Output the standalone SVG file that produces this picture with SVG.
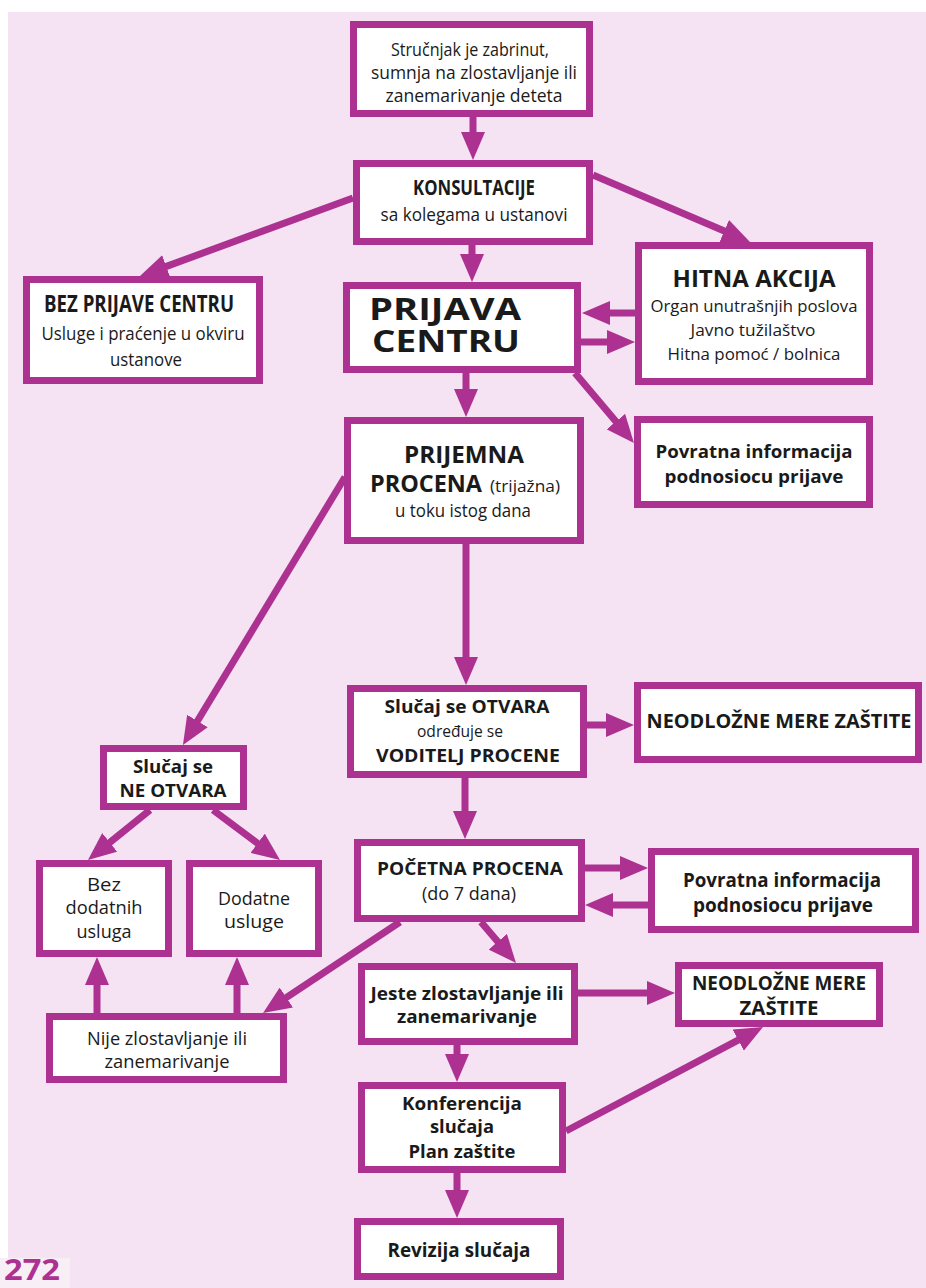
<svg xmlns="http://www.w3.org/2000/svg" width="926" height="1288" viewBox="0 0 926 1288">
<style>
.bx{fill:#fff;stroke:#ac3190;stroke-width:7}
.c{stroke:#ac3190;stroke-width:7;fill:none;marker-end:url(#ah)}
.t{font-family:'Open Sans','Liberation Sans',sans-serif;fill:#1a1a1a;text-anchor:middle}
.b{font-weight:700}
.r{font-weight:400}
</style>
<defs>
<marker id="ah" markerUnits="userSpaceOnUse" markerWidth="28" markerHeight="24" refX="2" refY="12" orient="auto">
<path d="M0,0 L28,12 L0,24 z" fill="#ac3190"/>
</marker>
</defs>
<rect x="0" y="0" width="926" height="1288" fill="#fff"/>
<rect x="8" y="12" width="918" height="1276" fill="#f5e2f2"/>
<rect x="0" y="1258" width="70" height="30" fill="#f8eff6"/>
<g id="connectors">
<line class="c" x1="473" y1="117" x2="473" y2="134"/>
<line class="c" x1="353" y1="198" x2="164.4" y2="267.1"/>
<line class="c" x1="593" y1="175" x2="726.1" y2="231.8"/>
<line class="c" x1="472" y1="245" x2="472" y2="256"/>
<line class="c" x1="635" y1="313" x2="608" y2="313"/>
<line class="c" x1="581" y1="342" x2="609" y2="342"/>
<line class="c" x1="466" y1="373" x2="466" y2="391"/>
<line class="c" x1="575" y1="373" x2="617.2" y2="423.1"/>
<line class="c" x1="466" y1="544" x2="466" y2="659"/>
<line class="c" x1="587" y1="725" x2="608" y2="725"/>
<line class="c" x1="345" y1="477" x2="196.4" y2="722.7"/>
<line class="c" x1="150" y1="810" x2="108.2" y2="843.7"/>
<line class="c" x1="213" y1="810" x2="259.2" y2="844.5"/>
<line class="c" x1="465" y1="778" x2="465" y2="813"/>
<line class="c" x1="585" y1="868" x2="622" y2="868"/>
<line class="c" x1="648" y1="905" x2="611" y2="905"/>
<line class="c" x1="481" y1="922" x2="499.1" y2="943.2"/>
<line class="c" x1="400" y1="922" x2="284.7" y2="998.6"/>
<line class="c" x1="97" y1="1013" x2="97" y2="983"/>
<line class="c" x1="237" y1="1013" x2="237" y2="983"/>
<line class="c" x1="578" y1="993" x2="649" y2="993"/>
<line class="c" x1="457" y1="1045" x2="457" y2="1056"/>
<line class="c" x1="566" y1="1131" x2="740" y2="1039.1"/>
<line class="c" x1="457" y1="1173" x2="457" y2="1192"/>
</g>
<g id="n-strucnjak">
<rect class="bx" x="353.5" y="24.5" width="236" height="89"/>
<text class="t r" x="470" y="56" font-size="18" textLength="158" lengthAdjust="spacingAndGlyphs">Stručnjak je zabrinut,</text>
<text class="t r" x="474" y="79" font-size="18" textLength="206" lengthAdjust="spacingAndGlyphs">sumnja na zlostavljanje ili</text>
<text class="t r" x="474" y="102" font-size="18" textLength="177" lengthAdjust="spacingAndGlyphs">zanemarivanje deteta</text>
</g>
<g id="n-konsultacije">
<rect class="bx" x="356.5" y="163.5" width="233" height="78"/>
<text class="t b" x="474" y="195" font-size="22" textLength="122" lengthAdjust="spacingAndGlyphs">KONSULTACIJE</text>
<text class="t r" x="474" y="221" font-size="18" textLength="187" lengthAdjust="spacingAndGlyphs">sa kolegama u ustanovi</text>
</g>
<g id="n-bez-prijave">
<rect class="bx" x="26.5" y="279.5" width="233" height="101"/>
<text class="t b" x="139" y="312" font-size="24" textLength="190" lengthAdjust="spacingAndGlyphs">BEZ PRIJAVE CENTRU</text>
<text class="t r" x="143" y="340" font-size="18" textLength="203" lengthAdjust="spacingAndGlyphs">Usluge i praćenje u okviru</text>
<text class="t r" x="146" y="366" font-size="18" textLength="72" lengthAdjust="spacingAndGlyphs">ustanove</text>
</g>
<g id="n-prijava">
<rect class="bx" x="346.5" y="285.5" width="231" height="84"/>
<text class="t b" x="445" y="320" font-size="30" textLength="152" lengthAdjust="spacingAndGlyphs">PRIJAVA</text>
<text class="t b" x="446" y="352" font-size="30" textLength="148" lengthAdjust="spacingAndGlyphs">CENTRU</text>
</g>
<g id="n-hitna">
<rect class="bx" x="638.5" y="245.5" width="231" height="136"/>
<text class="t b" x="754" y="287" font-size="23" textLength="163" lengthAdjust="spacingAndGlyphs">HITNA AKCIJA</text>
<text class="t r" x="754" y="312" font-size="17" textLength="207" lengthAdjust="spacingAndGlyphs">Organ unutrašnjih poslova</text>
<text class="t r" x="753" y="336" font-size="17" textLength="125" lengthAdjust="spacingAndGlyphs">Javno tužilaštvo</text>
<text class="t r" x="754" y="360" font-size="17" textLength="173" lengthAdjust="spacingAndGlyphs">Hitna pomoć / bolnica</text>
</g>
<g id="n-povratna1">
<rect class="bx" x="637.5" y="419.5" width="232" height="85"/>
<text class="t b" x="754" y="458" font-size="18" textLength="197" lengthAdjust="spacingAndGlyphs">Povratna informacija</text>
<text class="t b" x="754" y="483" font-size="18" textLength="179" lengthAdjust="spacingAndGlyphs">podnosiocu prijave</text>
</g>
<g id="n-prijemna">
<rect class="bx" x="347.5" y="420.5" width="233" height="120"/>
<text class="t b" x="464" y="463" font-size="24" textLength="120" lengthAdjust="spacingAndGlyphs">PRIJEMNA</text>
<text class="t b" x="426" y="492" font-size="24" textLength="112" lengthAdjust="spacingAndGlyphs">PROCENA</text>
<text class="t r" x="525" y="492" font-size="17" textLength="70" lengthAdjust="spacingAndGlyphs">(trijažna)</text>
<text class="t r" x="463" y="517" font-size="18" textLength="136" lengthAdjust="spacingAndGlyphs">u toku istog dana</text>
</g>
<g id="n-otvara">
<rect class="bx" x="350.5" y="688.5" width="233" height="86"/>
<text class="t b" x="467" y="713" font-size="18" textLength="165" lengthAdjust="spacingAndGlyphs">Slučaj se OTVARA</text>
<text class="t r" x="460" y="737" font-size="16" textLength="86" lengthAdjust="spacingAndGlyphs">određuje se</text>
<text class="t b" x="468" y="762" font-size="18" textLength="184" lengthAdjust="spacingAndGlyphs">VODITELJ PROCENE</text>
</g>
<g id="n-neodlozne1">
<rect class="bx" x="637.5" y="685.5" width="281" height="74"/>
<text class="t b" x="779" y="728" font-size="19" textLength="265" lengthAdjust="spacingAndGlyphs">NEODLOŽNE MERE ZAŠTITE</text>
</g>
<g id="n-ne-otvara">
<rect class="bx" x="103.5" y="748.5" width="140" height="58"/>
<text class="t b" x="173" y="773" font-size="18" textLength="80" lengthAdjust="spacingAndGlyphs">Slučaj se</text>
<text class="t b" x="173" y="797" font-size="18" textLength="107" lengthAdjust="spacingAndGlyphs">NE OTVARA</text>
</g>
<g id="n-bez-dodatnih">
<rect class="bx" x="39.5" y="863.5" width="129" height="90"/>
<text class="t r" x="104" y="891" font-size="18" textLength="34" lengthAdjust="spacingAndGlyphs">Bez</text>
<text class="t r" x="104" y="914" font-size="18" textLength="77" lengthAdjust="spacingAndGlyphs">dodatnih</text>
<text class="t r" x="104" y="938" font-size="18" textLength="55" lengthAdjust="spacingAndGlyphs">usluga</text>
</g>
<g id="n-dodatne">
<rect class="bx" x="189.5" y="863.5" width="129" height="90"/>
<text class="t r" x="254" y="905" font-size="18" textLength="72" lengthAdjust="spacingAndGlyphs">Dodatne</text>
<text class="t r" x="254" y="928" font-size="18" textLength="60" lengthAdjust="spacingAndGlyphs">usluge</text>
</g>
<g id="n-pocetna">
<rect class="bx" x="357.5" y="842.5" width="224" height="76"/>
<text class="t b" x="470" y="875" font-size="18" textLength="186" lengthAdjust="spacingAndGlyphs">POČETNA PROCENA</text>
<text class="t r" x="469" y="900" font-size="18" textLength="94" lengthAdjust="spacingAndGlyphs">(do 7 dana)</text>
</g>
<g id="n-povratna2">
<rect class="bx" x="651.5" y="851.5" width="264" height="78"/>
<text class="t b" x="782" y="887" font-size="19" textLength="198" lengthAdjust="spacingAndGlyphs">Povratna informacija</text>
<text class="t b" x="783" y="912" font-size="19" textLength="180" lengthAdjust="spacingAndGlyphs">podnosiocu prijave</text>
</g>
<g id="n-jeste">
<rect class="bx" x="361.5" y="966.5" width="213" height="75"/>
<text class="t b" x="467" y="1000" font-size="18" textLength="193" lengthAdjust="spacingAndGlyphs">Jeste zlostavljanje ili</text>
<text class="t b" x="467" y="1023" font-size="18" textLength="140" lengthAdjust="spacingAndGlyphs">zanemarivanje</text>
</g>
<g id="n-neodlozne2">
<rect class="bx" x="678.5" y="965.5" width="201" height="58"/>
<text class="t b" x="779" y="990" font-size="19" textLength="174" lengthAdjust="spacingAndGlyphs">NEODLOŽNE MERE</text>
<text class="t b" x="779" y="1015" font-size="19" textLength="79" lengthAdjust="spacingAndGlyphs">ZAŠTITE</text>
</g>
<g id="n-nije">
<rect class="bx" x="49.5" y="1016.5" width="234" height="63"/>
<text class="t r" x="167" y="1045" font-size="18" textLength="160" lengthAdjust="spacingAndGlyphs">Nije zlostavljanje ili</text>
<text class="t r" x="167" y="1068" font-size="18" textLength="125" lengthAdjust="spacingAndGlyphs">zanemarivanje</text>
</g>
<g id="n-konferencija">
<rect class="bx" x="361.5" y="1085.5" width="201" height="84"/>
<text class="t b" x="462" y="1110" font-size="18" textLength="120" lengthAdjust="spacingAndGlyphs">Konferencija</text>
<text class="t b" x="462" y="1133" font-size="18" textLength="64" lengthAdjust="spacingAndGlyphs">slučaja</text>
<text class="t b" x="462" y="1158" font-size="18" textLength="107" lengthAdjust="spacingAndGlyphs">Plan zaštite</text>
</g>
<g id="n-revizija">
<rect class="bx" x="357.5" y="1221.5" width="203" height="55"/>
<text class="t b" x="459" y="1257" font-size="19" textLength="143" lengthAdjust="spacingAndGlyphs">Revizija slučaja</text>
</g>
<text x="4" y="1280" font-family="'Open Sans','Liberation Sans',sans-serif" font-weight="700" font-size="28" fill="#ac3190" textLength="56" lengthAdjust="spacingAndGlyphs">272</text>
</svg>
